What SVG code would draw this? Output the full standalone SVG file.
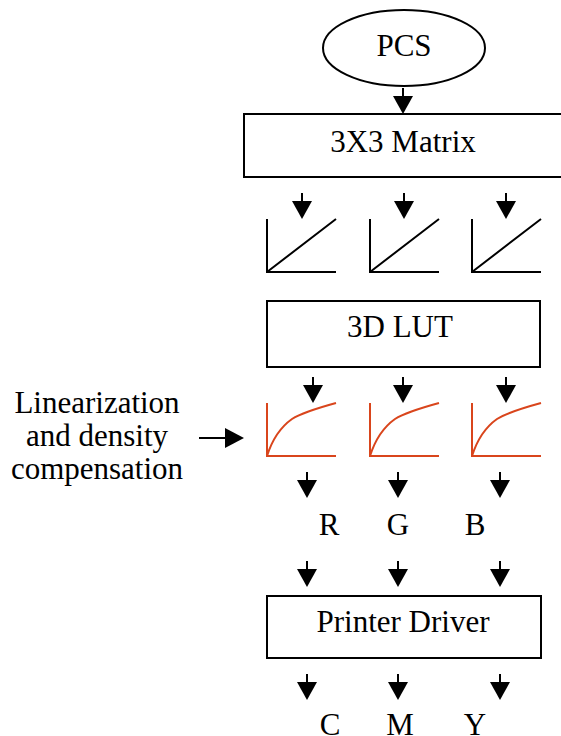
<svg xmlns="http://www.w3.org/2000/svg" xmlns:xlink="http://www.w3.org/1999/xlink" width="561" height="736" viewBox="0 0 561 736">
<style>
text{font-family:"Liberation Serif","Times New Roman",serif;font-size:31px;fill:#000;text-anchor:middle}
.box{fill:#fff;stroke:#000;stroke-width:2}
.lin{fill:none;stroke:#000;stroke-width:2}
.red{fill:none;stroke:#d9451c;stroke-width:2}
</style>
<defs>
<g id="arr"><line x1="0" y1="0" x2="0" y2="10" stroke="#000" stroke-width="2"/><polygon points="-10,8 10,8 0,26" fill="#000"/></g>
<g id="linicon"><path class="lin" d="M0,0 V53 H69 M0,53 L69,0"/></g>
<g id="redicon"><path class="red" d="M0,0 V53 H69 M0,53 Q8,28 25,16 Q36,9 69,0"/></g>
</defs>
<g id="pcs"><ellipse cx="404" cy="48" rx="81" ry="38" fill="#fff" stroke="#000" stroke-width="2"/><text x="404" y="56">PCS</text></g>
<g id="matrix"><rect class="box" x="244" y="114" width="325" height="63"/><text x="403" y="152">3X3 Matrix</text></g>
<g id="curves1"><use xlink:href="#linicon" x="267" y="219"/><use xlink:href="#linicon" x="370" y="219"/><use xlink:href="#linicon" x="472" y="219"/></g>
<g id="lut"><rect class="box" x="267" y="301" width="273" height="66"/><text x="400" y="337">3D LUT</text></g>
<g id="curves2"><use xlink:href="#redicon" x="267" y="403"/><use xlink:href="#redicon" x="370" y="403"/><use xlink:href="#redicon" x="472" y="403"/></g>
<g id="label"><text x="97" y="413">Linearization</text><text x="97" y="446">and density</text><text x="97" y="479">compensation</text></g>
<g id="rgb"><text x="329" y="535">R</text><text x="398" y="535">G</text><text x="475" y="535">B</text></g>
<g id="driver"><rect class="box" x="267" y="596" width="274" height="62"/><text x="403" y="632">Printer Driver</text></g>
<g id="cmy"><text x="330" y="735">C</text><text x="400" y="735">M</text><text x="475" y="735">Y</text></g>
<g id="connectors">
<use xlink:href="#arr" x="403" y="88"/>
<use xlink:href="#arr" x="302" y="193"/><use xlink:href="#arr" x="404" y="193"/><use xlink:href="#arr" x="506" y="193"/>
<use xlink:href="#arr" x="313" y="377"/><use xlink:href="#arr" x="403" y="377"/><use xlink:href="#arr" x="506" y="377"/>
<use xlink:href="#arr" x="307" y="472"/><use xlink:href="#arr" x="398" y="472"/><use xlink:href="#arr" x="500" y="472"/>
<use xlink:href="#arr" x="307" y="561"/><use xlink:href="#arr" x="398" y="561"/><use xlink:href="#arr" x="500" y="561"/>
<use xlink:href="#arr" x="307" y="674"/><use xlink:href="#arr" x="398" y="674"/><use xlink:href="#arr" x="500" y="674"/>
<line x1="199" y1="438" x2="227" y2="438" stroke="#000" stroke-width="2"/><polygon points="225,428 225,448 244,438" fill="#000"/>
</g>
</svg>
